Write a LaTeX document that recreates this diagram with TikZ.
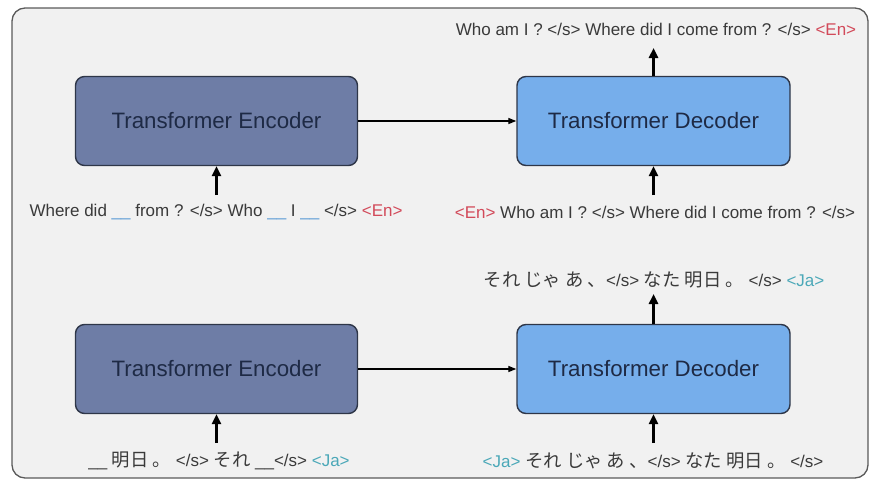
\documentclass[tikz,border=0pt]{standalone}
\usepackage{fontspec}
\setmainfont{Liberation Sans}
\newfontfamily\cjk[Scale=1.08]{Noto Sans CJK JP}
\usetikzlibrary{arrows.meta}
\definecolor{bgc}{HTML}{F1F1F1}
\definecolor{framec}{HTML}{5A5A5A}
\definecolor{encc}{HTML}{6E7DA6}
\definecolor{decc}{HTML}{76AEEB}
\definecolor{boxline}{HTML}{2E3648}
\definecolor{boxtext}{HTML}{1E2A45}
\definecolor{labc}{HTML}{3A3A3A}
\definecolor{enc}{HTML}{D24A5A}
\definecolor{jac}{HTML}{4BA8B8}
\definecolor{blankc}{HTML}{5B9BD5}
\newcommand{\bl}{\textcolor{blankc}{\_\_}}
\newcommand{\gbl}{\_\_}
\newcommand{\EN}{\textcolor{enc}{<En>}}
\newcommand{\JA}{\textcolor{jac}{<Ja>}}
\begin{document}
\begin{tikzpicture}[x=1pt,y=-1pt,
  box/.style={draw=boxline, line width=1.4pt, rounded corners=9pt, minimum height=89pt,
     text=boxtext, font=\fontsize{22.3}{26}\selectfont},
  encbox/.style={box, fill=encc, minimum width=282pt},
  decbox/.style={box, fill=decc, minimum width=273pt},
  lab/.style={text=labc, font=\fontsize{17}{20}\selectfont, inner sep=0pt},
  arr/.style={line width=2.4pt, -{Triangle[length=10pt,width=9pt]}},
  harr/.style={line width=1.3pt, -{Triangle[length=8pt,width=6pt]}}]
\useasboundingbox (0,0) rectangle (871,482);
\draw[fill=bgc, draw=framec, line width=1.3pt, rounded corners=13pt] (12,8) rectangle (868,478);
% top row
\node[encbox] (enc1) at (216.5,121) {Transformer Encoder};
\node[decbox] (dec1) at (653.5,121) {Transformer Decoder};
\node[lab] (in1) at (216,212) {Where did \bl{} from ? </s> Who \bl{} I \bl{} </s> \EN};
\node[lab] (din1) at (655,212) {\EN{} Who am I ? </s> Where did I come from ? </s>};
\node[lab] (out1) at (656,29) {Who am I ? </s> Where did I come from ? </s> \EN};
\coordinate (t1) at (216.5,195);
\coordinate (t2) at (653.5,195);
\coordinate (h1) at (653.5,48);
\draw[arr] (t1) -- (enc1.south);
\draw[arr] (t2) -- (dec1.south);
\draw[arr] (dec1.north) -- (h1);
\draw[harr] (enc1.east) -- (dec1.west);
% bottom row
\node[encbox] (enc2) at (216.5,369) {Transformer Encoder};
\node[decbox] (dec2) at (653.5,369) {Transformer Decoder};
\node[lab] (in2) at (219,461) {\gbl{} {\cjk 明日 。} </s> {\cjk それ} \gbl</s> \JA};
\node[lab] (din2) at (653,461) {\JA{} {\cjk それ じゃ あ 、}</s> {\cjk なた 明日 。} </s>};
\node[lab] (out2) at (654,280) {{\cjk それ じゃ あ 、}</s> {\cjk なた 明日 。} </s> \JA};
\coordinate (t3) at (216.5,443);
\coordinate (t4) at (653.5,443);
\coordinate (h2) at (653.5,294);
\draw[arr] (t3) -- (enc2.south);
\draw[arr] (t4) -- (dec2.south);
\draw[arr] (dec2.north) -- (h2);
\draw[harr] (enc2.east) -- (dec2.west);
\end{tikzpicture}
\end{document}
